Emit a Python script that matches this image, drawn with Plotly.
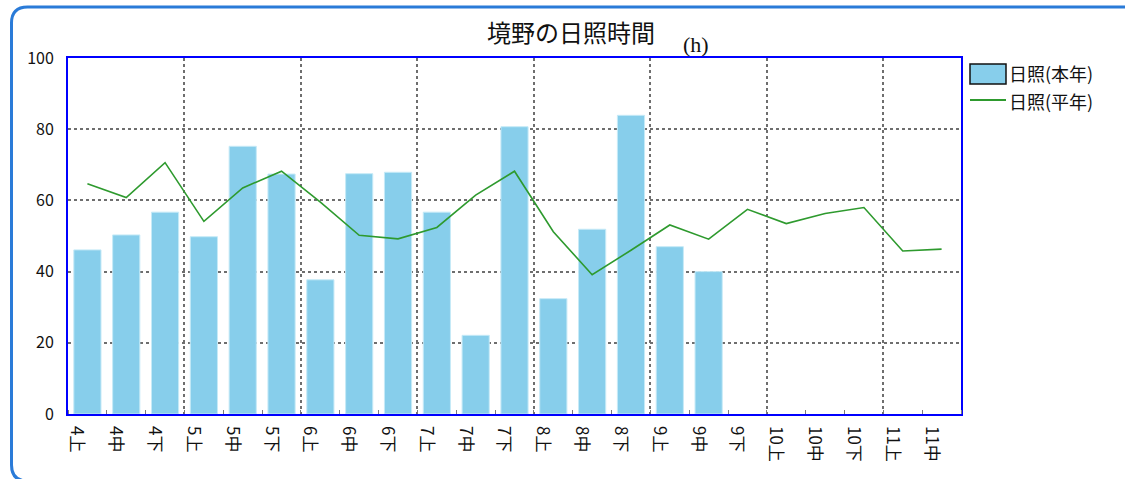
import plotly.graph_objects as go

# ---- data ----
categories = ["4上", "4中", "4下", "5上", "5中", "5下", "6上", "6中", "6下",
              "7上", "7中", "7下", "8上", "8中", "8下", "9上", "9中", "9下",
              "10上", "10中", "10下", "11上", "11中"]
sun_this_year = [46.1, 50.3, 56.7, 49.8, 75.2, 67.4, 37.7, 67.5, 67.9,
                 56.7, 22.1, 80.7, 32.4, 51.9, 83.9, 47.0, 40.0, None,
                 None, None, None, None, None]
sun_normal = [64.7, 60.8, 70.6, 54.1, 63.5, 68.2, 59.5, 50.2, 49.2,
              52.4, 61.5, 68.2, 51.2, 39.1, 46.0, 53.1, 49.1, 57.5,
              53.5, 56.3, 58.0, 45.8, 46.3]
y_ticks = [0, 20, 40, 60, 80, 100]
title_text = "境野の日照時間"
unit_text = "(h)"
name_this_year = "日照(本年)"
name_normal = "日照(平年)"

BAR_COLOR = "#87CEEB"
LINE_COLOR = "#2e9a2e"

# ---- layout geometry ----
W, H = 1125, 479
ML, MR, MT, MB = 68, 164, 58, 65
PW, PH = W - ML - MR, H - MT - MB


def px(xp):
    return (xp - ML) / PW


def py(yp):
    return (H - MB - yp) / PH


idx = list(range(len(categories)))
n = len(categories)
group_bounds = [k - 0.5 for k in range(3, n, 3)]
LABEL_SHIFT = 0.27  # tick labels sit a little left of the bar centres
label_pos = [i - LABEL_SHIFT for i in idx]

JP = "Noto Sans CJK JP"

fig = go.Figure()
fig.add_trace(go.Bar(x=idx, y=sun_this_year, name=name_this_year, width=0.7,
                     marker=dict(color=BAR_COLOR, line=dict(color="#c6eaf7", width=1)),
                     showlegend=False, xaxis="x", yaxis="y"))
fig.add_trace(go.Scatter(x=idx, y=sun_normal, name=name_normal, mode="lines",
                         line=dict(color=LINE_COLOR, width=1.6),
                         showlegend=False, xaxis="x2", yaxis="y"))

xr = [-0.5, n - 0.5]
fig.update_layout(
    width=W, height=H,
    margin=dict(l=ML, r=MR, t=MT, b=MB, pad=0),
    paper_bgcolor="white", plot_bgcolor="white",
    font=dict(family=JP, size=14, color="#111111"),
    xaxis=dict(range=xr, tickmode="array", tickvals=group_bounds,
               showticklabels=False, ticks="",
               showgrid=True, gridcolor="#6e6e6e", griddash="dot", gridwidth=2,
               showline=True, mirror=True, linecolor="#0000ff", linewidth=2,
               zeroline=False,
               minor=dict(tick0=-0.5, dtick=1, ticks="inside", ticklen=4,
                          tickcolor="#7a7a7a", tickwidth=1, showgrid=False)),
    xaxis2=dict(range=xr, overlaying="x", anchor="y", side="bottom",
                tickmode="array", tickvals=label_pos, ticktext=categories,
                tickangle=90, ticks="", showgrid=False, showline=False,
                zeroline=False, ticklabelstandoff=11,
                tickfont=dict(family=JP, size=17, color="#111111")),
    yaxis=dict(range=[0, 100], tickmode="array", tickvals=y_ticks,
               showgrid=True, gridcolor="#6e6e6e", griddash="dot", gridwidth=2,
               showline=True, mirror=True, linecolor="#0000ff", linewidth=2,
               zeroline=False, ticks="", ticklabelstandoff=9,
               tickfont=dict(family=JP, size=16, color="#111111")),
    showlegend=False,
)

fig.add_annotation(text=title_text, xref="paper", yref="paper",
                   x=px(571), y=py(32), xanchor="center", yanchor="middle",
                   showarrow=False, font=dict(family=JP, size=24, color="#111111"))
fig.add_annotation(text=unit_text, xref="paper", yref="paper",
                   x=px(696), y=py(44), xanchor="center", yanchor="middle",
                   showarrow=False, font=dict(family="Liberation Serif", size=22, color="#111111"))

# legend (drawn like the original: wide box symbol + line symbol)
lx0, lx1 = 970, 1006
fig.add_shape(type="rect", xref="paper", yref="paper",
              x0=px(lx0), x1=px(lx1), y0=py(84), y1=py(64),
              fillcolor=BAR_COLOR, line=dict(color="#111111", width=1.5))
fig.add_shape(type="line", xref="paper", yref="paper",
              x0=px(lx0), x1=px(lx1), y0=py(100), y1=py(100),
              line=dict(color=LINE_COLOR, width=2))
fig.add_annotation(text=name_this_year, xref="paper", yref="paper",
                   x=px(1007), y=py(73), xanchor="left", yanchor="middle",
                   showarrow=False, font=dict(family=JP, size=18, color="#111111"))
fig.add_annotation(text=name_normal, xref="paper", yref="paper",
                   x=px(1007), y=py(101), xanchor="left", yanchor="middle",
                   showarrow=False, font=dict(family=JP, size=18, color="#111111"))

# rounded outer frame
x0, x1, y0, y1, r = 11.5, 1140, 7, 481, 16
path = (f"M {px(x0 + r)},{py(y0)} L {px(x1)},{py(y0)} "
        f"M {px(x0)},{py(y0 + r)} Q {px(x0)},{py(y0)} {px(x0 + r)},{py(y0)} "
        f"M {px(x0)},{py(y0 + r)} L {px(x0)},{py(y1 - r)} "
        f"Q {px(x0)},{py(y1)} {px(x0 + r)},{py(y1)} L {px(x1)},{py(y1)}")
fig.add_shape(type="path", path=path, xref="paper", yref="paper",
              line=dict(color="#2a7bd8", width=3), layer="above")

fig.write_html("out.html", config={"displayModeBar": False},
               post_script="document.body.style.margin='0';")
